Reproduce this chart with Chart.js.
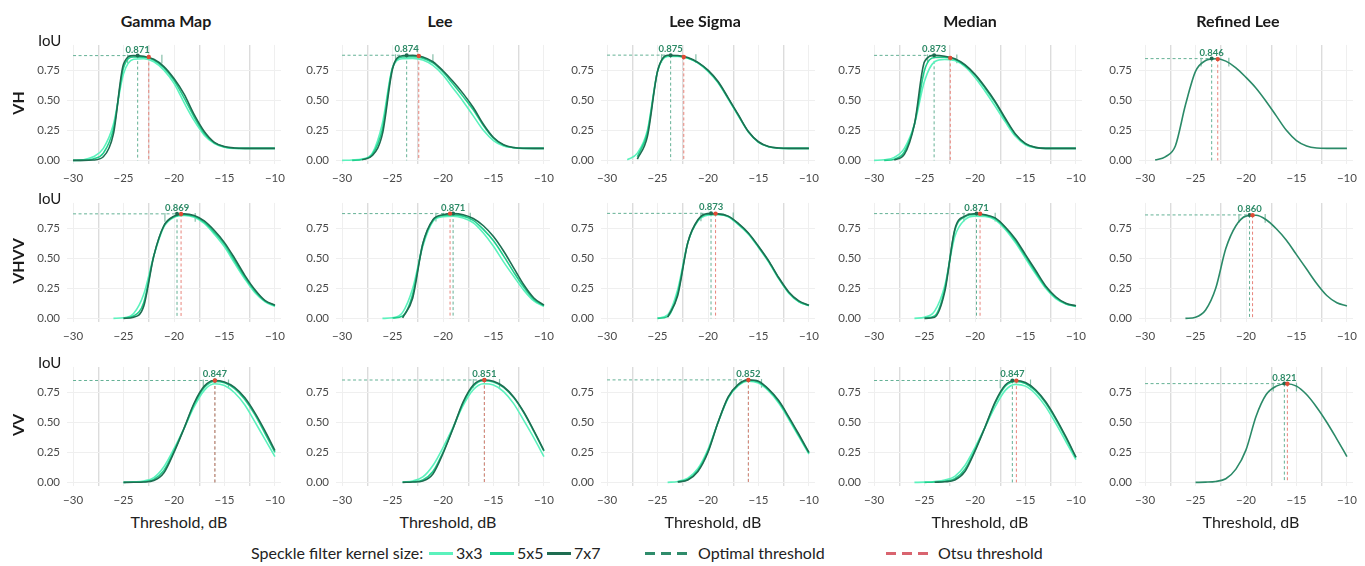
<!DOCTYPE html>
<html>
<head>
<meta charset="utf-8">
<script src="https://cdn.jsdelivr.net/npm/chart.js@4.4.1/dist/chart.umd.min.js"></script>
<style>
  body { margin: 0; background: #fff; }
  #fig { position: relative; width: 1365px; height: 566px; overflow: hidden; font-family: Lato, "Open Sans", sans-serif; color: #1a1a1a; }
  #fig canvas { position: absolute; }
  .t { position: absolute; white-space: nowrap; line-height: 1; }
  .title { font-weight: 700; font-size: 16px; transform: translateX(-50%); top: 13px; }
  .row { font-weight: 700; font-size: 16px; transform: translate(-50%, -50%) rotate(-90deg); left: 18px; }
  .iou { font-size: 15px; left: 38px; }
  .xl { font-size: 16px; transform: translateX(-50%); top: 514px; color: #222; }
  .leg { font-size: 16px; top: 545px; color: #222; }
  .sw { position: absolute; height: 3px; top: 552px; }
</style>
</head>
<body>
<div id="fig"></div>
<script>
// thresholds (dB) the curves were sampled at
const thresholds = [-30,-29,-28,-27,-26,-25,-24,-23,-22,-21,-20,-19,-18,-17,-16,-15,-14,-13,-12,-11,-10]

// VH
const vhGamma3  = [0,0.005,0.03,0.1,0.3,0.72,0.84,0.845,0.82,0.75,0.64,0.48,0.33,0.21,0.14,0.11,0.1,0.1,0.1,0.1,0.1]
const vhGamma5  = [0,0.002,0.012,0.06,0.26,0.77,0.86,0.858,0.835,0.77,0.665,0.52,0.36,0.225,0.145,0.112,0.102,0.1,0.1,0.1,0.1]
const vhGamma7  = [0,0,0.003,0.03,0.22,0.8,0.871,0.865,0.84,0.78,0.68,0.55,0.38,0.24,0.15,0.115,0.103,0.1,0.1,0.1,0.1]
const vhLee3    = [0,0.003,0.012,0.06,0.31,0.77,0.845,0.848,0.835,0.79,0.71,0.6,0.49,0.37,0.25,0.165,0.12,0.105,0.1,0.1,0.1]
const vhLee5    = [null,0,0.008,0.05,0.26,0.77,0.86,0.862,0.85,0.81,0.735,0.635,0.53,0.42,0.29,0.185,0.127,0.106,0.1,0.1,0.1]
const vhLee7    = [null,null,0.005,0.04,0.22,0.76,0.87,0.873,0.86,0.82,0.745,0.655,0.555,0.44,0.3,0.19,0.13,0.107,0.101,0.1,0.1]
const vhSigma3  = [null,null,0.005,0.06,0.25,0.74,0.865,0.865,0.85,0.81,0.74,0.645,0.51,0.37,0.235,0.15,0.113,0.102,0.1,0.1,0.1]
const vhSigma5  = [null,null,null,0.03,0.23,0.74,0.87,0.868,0.852,0.812,0.745,0.65,0.515,0.375,0.238,0.152,0.114,0.102,0.1,0.1,0.1]
const vhSigma7  = [null,null,null,0.01,0.2,0.74,0.874,0.872,0.855,0.815,0.75,0.655,0.52,0.38,0.24,0.155,0.115,0.103,0.1,0.1,0.1]
const vhMedian3 = [0,0.005,0.025,0.1,0.3,0.66,0.82,0.84,0.83,0.78,0.69,0.575,0.45,0.32,0.2,0.13,0.105,0.1,0.1,0.1,0.1]
const vhMedian5 = [null,0,0.01,0.07,0.3,0.75,0.855,0.857,0.84,0.79,0.71,0.6,0.48,0.34,0.215,0.138,0.107,0.1,0.1,0.1,0.1]
const vhMedian7 = [null,null,0.003,0.05,0.3,0.82,0.873,0.865,0.845,0.795,0.715,0.61,0.49,0.35,0.22,0.14,0.108,0.1,0.1,0.1,0.1]
const vhRefined = [null,0.003,0.03,0.12,0.46,0.74,0.83,0.845,0.825,0.77,0.69,0.6,0.49,0.37,0.25,0.165,0.12,0.103,0.1,0.1,0.1]

// VHVV
const vhvvGamma3  = [null,null,null,null,0,0.005,0.04,0.2,0.52,0.76,0.84,0.855,0.84,0.79,0.7,0.595,0.46,0.33,0.215,0.14,0.1]
const vhvvGamma5  = [null,null,null,null,null,0.002,0.02,0.13,0.52,0.77,0.845,0.862,0.848,0.8,0.715,0.615,0.48,0.345,0.23,0.145,0.105]
const vhvvGamma7  = [null,null,null,null,null,0,0.01,0.1,0.52,0.77,0.85,0.869,0.855,0.81,0.73,0.63,0.5,0.36,0.24,0.15,0.11]
const vhvvLee3    = [null,null,null,null,0,0.005,0.05,0.25,0.6,0.805,0.845,0.85,0.835,0.795,0.71,0.6,0.47,0.35,0.235,0.145,0.1]
const vhvvLee5    = [null,null,null,null,null,0.003,0.02,0.2,0.62,0.815,0.855,0.86,0.85,0.815,0.74,0.645,0.52,0.385,0.26,0.158,0.105]
const vhvvLee7    = [null,null,null,null,null,null,0.005,0.17,0.62,0.82,0.862,0.871,0.862,0.83,0.77,0.68,0.56,0.42,0.28,0.17,0.11]
const vhvvSigma3  = [null,null,null,null,null,0.002,0.03,0.24,0.63,0.81,0.857,0.862,0.845,0.78,0.7,0.59,0.47,0.33,0.21,0.138,0.105]
const vhvvSigma5  = [null,null,null,null,null,0,0.015,0.21,0.63,0.815,0.866,0.867,0.848,0.785,0.705,0.595,0.475,0.335,0.215,0.14,0.107]
const vhvvSigma7  = [null,null,null,null,null,null,0.01,0.19,0.63,0.82,0.871,0.869,0.85,0.79,0.71,0.6,0.48,0.34,0.22,0.145,0.11]
const vhvvMedian3 = [null,null,null,null,0,0.01,0.06,0.27,0.68,0.82,0.85,0.848,0.82,0.74,0.63,0.5,0.37,0.25,0.165,0.12,0.1]
const vhvvMedian5 = [null,null,null,null,null,0.003,0.02,0.24,0.73,0.845,0.865,0.858,0.83,0.752,0.648,0.517,0.385,0.26,0.172,0.122,0.102]
const vhvvMedian7 = [null,null,null,null,null,0,0.01,0.22,0.74,0.85,0.87,0.862,0.835,0.76,0.66,0.53,0.4,0.27,0.18,0.125,0.105]
const vhvvRefined = [null,null,null,null,0,0.01,0.07,0.25,0.58,0.77,0.85,0.857,0.82,0.745,0.65,0.53,0.41,0.29,0.19,0.13,0.103]

// VV
const vvGamma3  = [null,null,null,null,null,0,0.004,0.012,0.04,0.13,0.28,0.45,0.63,0.765,0.82,0.805,0.745,0.645,0.505,0.36,0.215]
const vvGamma5  = [null,null,null,null,null,0,0.002,0.006,0.025,0.1,0.26,0.45,0.65,0.79,0.84,0.828,0.78,0.69,0.565,0.41,0.25]
const vvGamma7  = [null,null,null,null,null,0,0.001,0.003,0.015,0.08,0.25,0.45,0.66,0.8,0.847,0.835,0.79,0.705,0.58,0.43,0.265]
const vvLee3    = [null,null,null,null,null,null,0.003,0.012,0.045,0.14,0.29,0.46,0.64,0.77,0.82,0.81,0.755,0.655,0.515,0.37,0.215]
const vvLee5    = [null,null,null,null,null,null,0.001,0.005,0.02,0.09,0.25,0.45,0.66,0.8,0.845,0.835,0.79,0.705,0.58,0.425,0.26]
const vvLee7    = [null,null,null,null,null,null,0,0.003,0.012,0.07,0.24,0.45,0.67,0.81,0.851,0.84,0.795,0.71,0.585,0.43,0.265]
const vvSigma3  = [null,null,null,null,null,null,0,0.008,0.035,0.115,0.275,0.5,0.7,0.805,0.842,0.825,0.76,0.66,0.525,0.38,0.235]
const vvSigma5  = [null,null,null,null,null,null,null,0.005,0.025,0.1,0.26,0.5,0.705,0.81,0.848,0.835,0.77,0.672,0.537,0.39,0.243]
const vvSigma7  = [null,null,null,null,null,null,null,0.003,0.02,0.09,0.25,0.5,0.71,0.815,0.852,0.84,0.775,0.68,0.545,0.4,0.25]
const vvMedian3 = [null,null,null,null,0,0.002,0.008,0.02,0.05,0.14,0.29,0.46,0.63,0.765,0.815,0.8,0.735,0.63,0.49,0.34,0.19]
const vvMedian5 = [null,null,null,null,null,0,0.003,0.01,0.03,0.11,0.27,0.46,0.66,0.8,0.84,0.822,0.76,0.66,0.525,0.37,0.205]
const vvMedian7 = [null,null,null,null,null,null,0.001,0.005,0.02,0.09,0.26,0.46,0.67,0.81,0.847,0.83,0.77,0.67,0.535,0.38,0.21]
const vvRefined = [null,null,null,null,null,0,0.002,0.008,0.03,0.11,0.27,0.55,0.73,0.8,0.82,0.8,0.73,0.625,0.5,0.36,0.215]

const filters = ['Gamma Map', 'Lee', 'Lee Sigma', 'Median', 'Refined Lee']
const polarisations = ['VH', 'VHVV', 'VV']
const kernels = ['3x3', '5x5', '7x7']

// per panel: rows VH, VHVV, VV; columns follow filters
const bestIoU   = [[0.871, 0.874, 0.875, 0.873, 0.846], [0.869, 0.871, 0.873, 0.871, 0.860], [0.847, 0.851, 0.852, 0.847, 0.821]]
const optimalDb = [[-23.6, -23.6, -23.7, -24.05, -23.4], [-19.7, -19.0, -19.7, -19.85, -19.65], [-15.95, -15.9, -16.0, -16.3, -16.2]]
const otsuDb    = [[-22.5, -22.4, -22.4, -22.45, -22.8], [-19.3, -19.3, -19.25, -19.5, -19.35], [-15.95, -15.9, -16.0, -15.9, -15.9]]
const otsuIoU   = [[0.86, 0.868, 0.86, 0.852, 0.842], [0.868, 0.871, 0.871, 0.87, 0.858], [0.847, 0.851, 0.852, 0.846, 0.82]]
const rangeLow  = [[-24.6, -24.7, -24.6, -24.7, -24.45], [-20.9, -20.7, -20.7, -21.1, -20.7], [-17.1, -17.0, -17.2, -17.5, -17.3]]
const rangeHigh = [[-21.2, -21.0, -21.2, -21.8, -21.7], [-17.9, -17.3, -17.5, -18.0, -18.1], [-14.6, -14.4, -14.7, -14.5, -15.0]]

const series = [
  [[vhGamma3, vhGamma5, vhGamma7], [vhLee3, vhLee5, vhLee7], [vhSigma3, vhSigma5, vhSigma7], [vhMedian3, vhMedian5, vhMedian7], [vhRefined]],
  [[vhvvGamma3, vhvvGamma5, vhvvGamma7], [vhvvLee3, vhvvLee5, vhvvLee7], [vhvvSigma3, vhvvSigma5, vhvvSigma7], [vhvvMedian3, vhvvMedian5, vhvvMedian7], [vhvvRefined]],
  [[vvGamma3, vvGamma5, vvGamma7], [vvLee3, vvLee5, vvLee7], [vvSigma3, vvSigma5, vvSigma7], [vvMedian3, vvMedian5, vvMedian7], [vvRefined]]
]

const KERNEL_COLORS = ['#5cf2bd', '#1fcf8c', '#1e6d51']
const REFINED_COLOR = '#2b8a68'
const OPT_COLOR = '#64b195'
const OTSU_COLOR = '#e8837a'
const FONT = 'Lato, "Open Sans", sans-serif'

// layout of the grid (plot areas)
const AREA_LEFT = [67, 336, 601, 868, 1139]
const AREA_TOP = [35, 193, 357]
const AW = 214, AH = 129, YW = 42, XH = 26, PT = 4, PR = 12

const fig = document.getElementById('fig')

function addText(cls, text, style) {
  const d = document.createElement('div')
  d.className = 't ' + cls
  d.textContent = text
  Object.assign(d.style, style)
  fig.appendChild(d)
  return d
}

const marksPlugin = {
  id: 'marks',
  beforeDatasetsDraw(chart, args, o) {
    const {ctx, scales: {x, y}} = chart
    const line = (x1, y1, x2, y2) => { ctx.beginPath(); ctx.moveTo(x1, y1); ctx.lineTo(x2, y2); ctx.stroke() }
    const xo = x.getPixelForValue(o.opt), yb = y.getPixelForValue(o.best), y0 = y.getPixelForValue(0)
    ctx.save()
    ctx.lineWidth = 1
    ctx.setLineDash([3, 2.5])
    ctx.strokeStyle = OPT_COLOR
    line(x.getPixelForValue(-30), yb, xo, yb)
    line(xo, yb, xo, y0)
    ctx.strokeStyle = OTSU_COLOR
    const xs = x.getPixelForValue(o.otsu)
    line(xs, y.getPixelForValue(o.otsuIoU), xs, y0)
    // range caps around the optimum
    ctx.setLineDash([])
    ctx.strokeStyle = '#86bfa9'
    ctx.lineWidth = 1.2
    ;[o.lo, o.hi].forEach(v => {
      const px = x.getPixelForValue(v)
      line(px, y.getPixelForValue(o.best + 0.008), px, y.getPixelForValue(o.best - 0.065))
    })
    ctx.restore()
  },
  afterDatasetsDraw(chart, args, o) {
    const {ctx, scales: {x, y}} = chart
    const xo = x.getPixelForValue(o.opt), yb = y.getPixelForValue(o.best)
    ctx.save()
    ctx.fillStyle = '#1d6b50'
    ctx.beginPath(); ctx.arc(xo, yb, 2, 0, Math.PI * 2); ctx.fill()
    ctx.fillStyle = '#e04b35'
    ctx.beginPath(); ctx.arc(x.getPixelForValue(o.otsu), y.getPixelForValue(o.otsuIoU), 2.2, 0, Math.PI * 2); ctx.fill()
    ctx.fillStyle = '#2c8a66'
    ctx.font = 'bold 9.5px ' + FONT
    ctx.textAlign = 'center'
    ctx.textBaseline = 'alphabetic'
    ctx.fillText(o.best.toFixed(3), xo, yb - 3)
    ctx.restore()
  }
}

const xTicks = [-30, -27.5, -25, -22.5, -20, -17.5, -15, -12.5, -10]
const yTicks = [0, 0.25, 0.5, 0.75]

polarisations.forEach((pol, r) => {
  filters.forEach((name, c) => {
    const cv = document.createElement('canvas')
    cv.width = YW + AW + PR
    cv.height = PT + AH + XH
    cv.style.left = (AREA_LEFT[c] - YW) + 'px'
    cv.style.top = (AREA_TOP[r] - PT) + 'px'
    fig.appendChild(cv)

    const curves = series[r][c]
    const datasets = curves.map((vals, k) => ({
      label: curves.length === 1 ? name : kernels[k],
      data: thresholds.map((t, i) => ({x: t, y: vals[i]})).filter(p => p.y !== null),
      borderColor: curves.length === 1 ? REFINED_COLOR : KERNEL_COLORS[k],
      borderWidth: 1.6,
      pointRadius: 0,
      fill: false,
      cubicInterpolationMode: 'monotone',
      order: 3 - k
    }))

    new Chart(cv, {
      type: 'line',
      data: {datasets},
      options: {
        responsive: false,
        animation: false,
        devicePixelRatio: 1,
        layout: {padding: {top: PT, right: PR, left: 0, bottom: 0}},
        plugins: {
          legend: {display: false},
          tooltip: {enabled: false},
          marks: {
            opt: optimalDb[r][c], best: bestIoU[r][c],
            otsu: otsuDb[r][c], otsuIoU: otsuIoU[r][c],
            lo: rangeLow[r][c], hi: rangeHigh[r][c]
          }
        },
        scales: {
          x: {
            type: 'linear', min: -30.6, max: -9.4,
            afterBuildTicks: s => { s.ticks = xTicks.map(v => ({value: v})) },
            afterFit: s => { s.height = XH },
            border: {display: false},
            grid: {
              drawTicks: false,
              color: ctx => (ctx.tick && ctx.tick.value % 5 === 0) ? '#efefef' : '#dcdcdc',
              lineWidth: ctx => (ctx.tick && ctx.tick.value % 5 === 0) ? 1 : 1.4
            },
            ticks: {
              autoSkip: false, maxRotation: 0, padding: 7, color: '#4a4a4a',
              font: {family: FONT, size: 11.5},
              callback: v => v % 5 === 0 ? '\u2212' + Math.abs(v) : ''
            }
          },
          y: {
            min: -0.03, max: 0.96,
            afterBuildTicks: s => { s.ticks = yTicks.map(v => ({value: v})) },
            afterFit: s => { s.width = YW },
            border: {display: false},
            grid: {drawTicks: false, color: '#efefef'},
            ticks: {
              padding: 7, color: '#4a4a4a',
              font: {family: FONT, size: 11.5},
              callback: v => Number(v).toFixed(2)
            }
          }
        }
      },
      plugins: [marksPlugin]
    })
  })
})

// titles, row labels, axis names
const TITLE_X = [166, 440, 705, 970, 1238]
filters.forEach((name, c) => {
  addText('title', name, {left: TITLE_X[c] + 'px'})
  addText('xl', 'Threshold, dB', {left: (AREA_LEFT[c] + AW / 2 + 5) + 'px'})
})
polarisations.forEach((pol, r) => {
  addText('row', pol, {top: (AREA_TOP[r] + 68) + 'px'})
  addText('iou', 'IoU', {top: (AREA_TOP[r] - 2) + 'px'})
})

// legend
addText('leg', 'Speckle filter kernel size:', {left: '251px'})
const SW_LEFT = [429, 490, 547]
kernels.forEach((k, i) => {
  const sw = document.createElement('div')
  sw.className = 'sw'
  Object.assign(sw.style, {left: SW_LEFT[i] + 'px', width: '24px', background: KERNEL_COLORS[i]})
  fig.appendChild(sw)
  addText('leg', k, {left: (SW_LEFT[i] + 27) + 'px'})
})
function dashes(left, color) {
  for (let i = 0; i < 3; i++) {
    const d = document.createElement('div')
    d.className = 'sw'
    Object.assign(d.style, {left: (left + i * 16) + 'px', width: '10px', background: color})
    fig.appendChild(d)
  }
}
dashes(645, '#2f8c6b')
addText('leg', 'Optimal threshold', {left: '698px'})
dashes(886, '#d9646f')
addText('leg', 'Otsu threshold', {left: '938px'})
</script>
</body>
</html>
